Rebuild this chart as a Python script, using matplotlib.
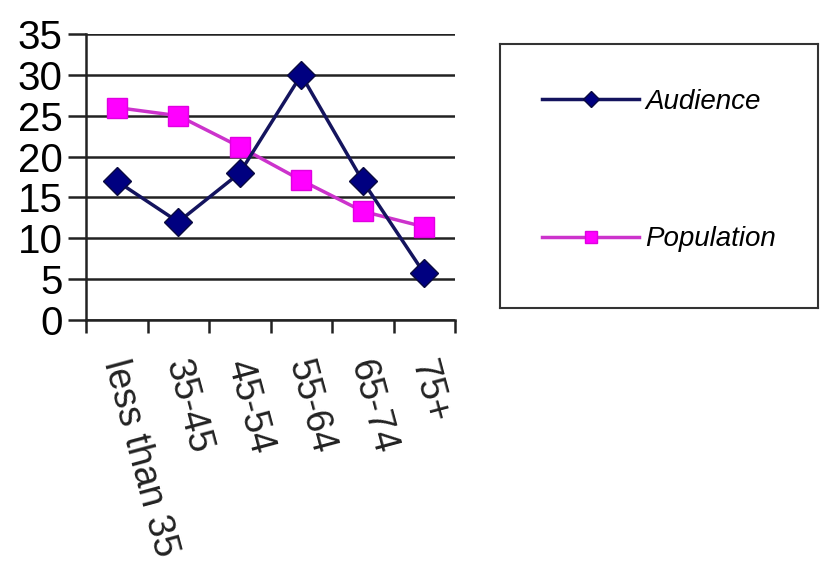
import numpy as np
import matplotlib
matplotlib.use("Agg")
from matplotlib import pyplot as plt

# data
age_groups = ["less than 35", "35-45", "45-54", "55-64", "65-74", "75+"]
audience = [17, 12, 18, 30, 17, 5.7]
population = [26, 25, 21.2, 17.1, 13.3, 11.4]
y_ticks = [0, 5, 10, 15, 20, 25, 30, 35]

plt.rcParams['font.family'] = ['Liberation Sans', 'DejaVu Sans']

fig = plt.figure(figsize=(8.21, 5.68), dpi=100)
ax = fig.add_axes([0.1048, 0.4366, 0.4494, 0.5035])

x = np.arange(len(age_groups))
ax.plot(x, audience, color='#14145e', lw=2.5, marker='D', ms=14,
        mfc='#000080', mec='#0a0a40', label='Audience', zorder=4)
ax.plot(x, population, color='#cc33cc', lw=2.5, marker='s', ms=14,
        mfc='#ff00ff', mec='#e000e0', label='Population', zorder=3)

ax.set_xlim(-0.5, len(age_groups) - 0.5)
ax.set_ylim(0, 35)
ax.set_yticks(y_ticks)
ax.set_yticklabels([str(v) for v in y_ticks], fontsize=29)
ax.yaxis.grid(True, color='#222222', lw=1.8)
ax.set_axisbelow(True)
ax.tick_params(axis='y', length=13, width=1.8, color='#222222', pad=4)

# category ticks sit on the boundaries, labels at the centers
ax.set_xticks(np.arange(-0.5, len(age_groups), 1.0))
ax.set_xticklabels([])
ax.tick_params(axis='x', length=9, width=1.8, color='#222222', direction='out')
for i, lab in enumerate(age_groups):
    ax.text(i - 0.05, -5.0, lab, rotation=-75, rotation_mode='anchor',
            ha='left', va='center', fontsize=27, color='#222222')

for s in ['top', 'right']:
    ax.spines[s].set_visible(False)
for s in ['left', 'bottom']:
    ax.spines[s].set_color('#222222')
    ax.spines[s].set_linewidth(1.8)

# legend box on the right
lax = fig.add_axes([500/821, (568-308)/568, 318/821, 264/568])
lax.set_xticks([])
lax.set_yticks([])
for s in lax.spines.values():
    s.set_color('#333333')
    s.set_linewidth(1.5)
h, l = ax.get_legend_handles_labels()
leg = lax.legend(h, l, loc='center', frameon=False,
                 labelspacing=4.0, handlelength=3.5, handletextpad=0.2,
                 markerscale=0.6, prop={'style': 'italic', 'size': 20},
                 bbox_to_anchor=(0.5, 0.52))

fig.savefig("out.png", dpi=100)
